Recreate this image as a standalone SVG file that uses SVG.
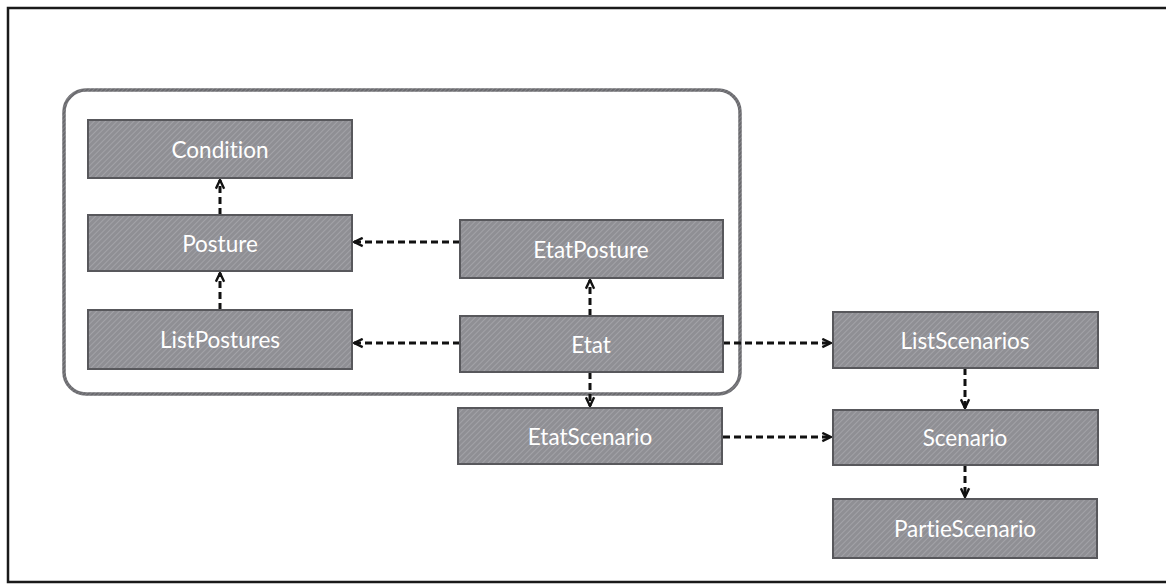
<svg xmlns="http://www.w3.org/2000/svg" width="1166" height="584" viewBox="0 0 1166 584">
  <defs>
    <!-- fine diagonal texture used on the class boxes -->
    <pattern id="hatch" width="4" height="4" patternUnits="userSpaceOnUse" patternTransform="rotate(45)">
      <rect width="4" height="4" fill="#8f8f94"/>
      <line x1="0" y1="0" x2="0" y2="4" stroke="#adadb2" stroke-width="1.3"/>
    </pattern>
    <pattern id="frameHatch" width="3" height="3" patternUnits="userSpaceOnUse" patternTransform="rotate(45)">
      <rect width="3" height="3" fill="#6a6a6e"/>
      <line x1="0" y1="0" x2="0" y2="3" stroke="#9a9a9e" stroke-width="1"/>
    </pattern>
    <marker id="open" viewBox="0 0 12 12" refX="11" refY="6" markerWidth="11" markerHeight="11" markerUnits="userSpaceOnUse" orient="auto">
      <path d="M1.5,1.5 L11,6 L1.5,10.5" fill="none" stroke="#111" stroke-width="2.6" stroke-linejoin="miter"/>
    </marker>
  </defs>
  <style>
    .box { fill: url(#hatch); stroke: #58585c; stroke-width: 2; }
    .lbl { font-family: Lato, "Liberation Sans", sans-serif; font-size: 22.5px; fill: #ffffff; text-anchor: middle; dominant-baseline: central; font-variant-ligatures: none; }
    .dep { fill: none; stroke: #111; stroke-width: 3; stroke-dasharray: 7 4; marker-end: url(#open); }
  </style>

  <rect width="1166" height="584" fill="#ffffff"/>

  <!-- page frame (open on the right) -->
  <path d="M1166,8 H8 V582 H1166" fill="none" stroke="#1a1a1a" stroke-width="2.5"/>

  <!-- package boundary around the posture classes -->
  <rect id="package" x="64" y="90" width="676" height="304" rx="22" ry="22" fill="none" stroke="url(#frameHatch)" stroke-width="3.5"/>

  <g id="connectors">
    <line class="dep" x1="220" y1="215" x2="220" y2="180"/>
    <line class="dep" x1="220" y1="310" x2="220" y2="273"/>
    <line class="dep" x1="460" y1="242" x2="354" y2="242"/>
    <line class="dep" x1="460" y1="343" x2="354" y2="343"/>
    <line class="dep" x1="590" y1="316" x2="590" y2="280"/>
    <line class="dep" x1="590" y1="372" x2="590" y2="406"/>
    <line class="dep" x1="723" y1="343" x2="831" y2="343"/>
    <line class="dep" x1="723" y1="437" x2="831" y2="437"/>
    <line class="dep" x1="965" y1="368" x2="965" y2="408"/>
    <line class="dep" x1="965" y1="465" x2="965" y2="497"/>
  </g>

  <g id="Condition">
    <rect class="box" x="88" y="120" width="264" height="58"/>
    <text class="lbl" x="220" y="149">Condition</text>
  </g>
  <g id="Posture">
    <rect class="box" x="88" y="215" width="264" height="56"/>
    <text class="lbl" x="220" y="243">Posture</text>
  </g>
  <g id="ListPostures">
    <rect class="box" x="88" y="310" width="264" height="59"/>
    <text class="lbl" x="220" y="339">ListPostures</text>
  </g>
  <g id="EtatPosture">
    <rect class="box" x="460" y="220" width="263" height="58"/>
    <text class="lbl" x="591" y="249">EtatPosture</text>
  </g>
  <g id="Etat">
    <rect class="box" x="460" y="316" width="263" height="56"/>
    <text class="lbl" x="591" y="344">Etat</text>
  </g>
  <g id="EtatScenario">
    <rect class="box" x="458" y="408" width="264" height="56"/>
    <text class="lbl" x="590" y="436">EtatScenario</text>
  </g>
  <g id="ListScenarios">
    <rect class="box" x="833" y="312" width="265" height="56"/>
    <text class="lbl" x="965" y="340">ListScenarios</text>
  </g>
  <g id="Scenario">
    <rect class="box" x="833" y="410" width="265" height="55"/>
    <text class="lbl" x="965" y="437">Scenario</text>
  </g>
  <g id="PartieScenario">
    <rect class="box" x="833" y="499" width="264" height="59"/>
    <text class="lbl" x="965" y="528">PartieScenario</text>
  </g>
</svg>
